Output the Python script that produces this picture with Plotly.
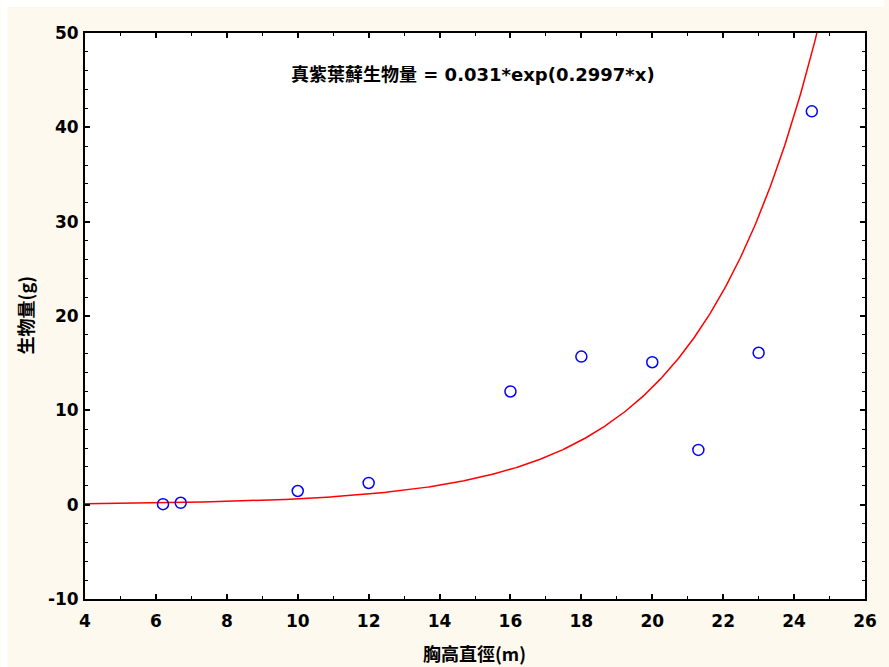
import numpy as np
import plotly.graph_objects as go

# Observed stems: diameter at breast height and biomass
dbh = [6.2, 6.7, 10.0, 12.0, 16.0, 18.0, 20.0, 21.3, 23.0, 24.5]
biomass = [0.05, 0.2, 1.45, 2.3, 12.0, 15.7, 15.1, 5.8, 16.1, 41.7]

# Fitted exponential model: biomass = a * exp(b * x)
fit_a = 0.031
fit_b = 0.2997

x_ticks = [4, 6, 8, 10, 12, 14, 16, 18, 20, 22, 24, 26]
y_ticks = [-10, 0, 10, 20, 30, 40, 50]
y_tick_text = ["-10", "0", "10", "20", "30", "40", "50"]

equation_text = "真紫葉蘚生物量 = 0.031*exp(0.2997*x)"
x_title = "胸高直徑(m)"
y_title = "生物量(g)"

fit_x = np.linspace(4, 26, 600)
fit_y = fit_a * np.exp(fit_b * fit_x)

CREAM = "#fdf9ef"
LATIN = "DejaVu Sans, Noto Sans CJK TC, sans-serif"
CJK = "Noto Sans CJK TC, sans-serif"

L, R, T, B = 85, 19, 33, 68
PW, PH = 889 - L - R, 667 - T - B

fig = go.Figure()
fig.add_trace(go.Scatter(
    x=fit_x, y=fit_y, mode="lines",
    line=dict(color="#ff0000", width=1.5),
    hoverinfo="skip", showlegend=False,
))
fig.add_trace(go.Scatter(
    x=dbh, y=biomass, mode="markers",
    marker=dict(symbol="circle-open", size=11, color="#0000ff",
                line=dict(width=1.5, color="#0000ff")),
    showlegend=False,
))

axis_common = dict(
    showline=True, linecolor="black", linewidth=2,
    mirror="allticks", ticks="inside", ticklen=5, tickwidth=1.5,
    tickcolor="black", showgrid=False, zeroline=False,
    tickfont=dict(family=LATIN, size=17, color="black", weight="bold"),
)

fig.update_xaxes(
    range=[4, 26], tickvals=x_ticks, ticklabelstandoff=6,
    minor=dict(ticks="inside", dtick=1, ticklen=3, tickwidth=1.2,
               tickcolor="black", showgrid=False),
    **axis_common,
)
fig.update_yaxes(
    range=[-10, 50], tickvals=y_ticks, ticktext=y_tick_text,
    ticklabelstandoff=1,
    minor=dict(ticks="inside", dtick=2, ticklen=3, tickwidth=1.2,
               tickcolor="black", showgrid=False),
    **axis_common,
)

fig.add_annotation(
    xref="paper", yref="paper", x=(475 - L) / PW, y=(599 - 75) / PH,
    text=equation_text, showarrow=False, xanchor="center", yanchor="middle",
    font=dict(family=LATIN, size=18, color="black", weight="bold"),
)
fig.add_annotation(
    xref="paper", yref="paper", x=(477 - L) / PW, y=-(653 - 599) / PH,
    text=x_title, showarrow=False, xanchor="center", yanchor="middle",
    font=dict(family=CJK, size=18, color="black", weight="bold"),
)
fig.add_annotation(
    xref="paper", yref="paper", x=-(L - 25) / PW, y=(599 - 315) / PH,
    text=y_title, showarrow=False, textangle=-90,
    xanchor="center", yanchor="middle",
    font=dict(family=CJK, size=18, color="black", weight="bold"),
)

# thin white frame along the top and left page edges
fig.add_shape(type="rect", xref="paper", yref="paper", layer="above",
              x0=-L / PW, x1=(889 - L) / PW, y0=1 + 26 / PH, y1=1 + 40 / PH,
              fillcolor="white", line=dict(width=0))
fig.add_shape(type="rect", xref="paper", yref="paper", layer="above",
              x0=-L / PW, x1=-(L - 7) / PW, y0=-B / PH, y1=1 + 40 / PH,
              fillcolor="white", line=dict(width=0))

fig.update_layout(
    width=889, height=667,
    margin=dict(l=L, r=R, t=T, b=B),
    paper_bgcolor=CREAM, plot_bgcolor="white",
    showlegend=False,
)

fig.write_html("out.html")
